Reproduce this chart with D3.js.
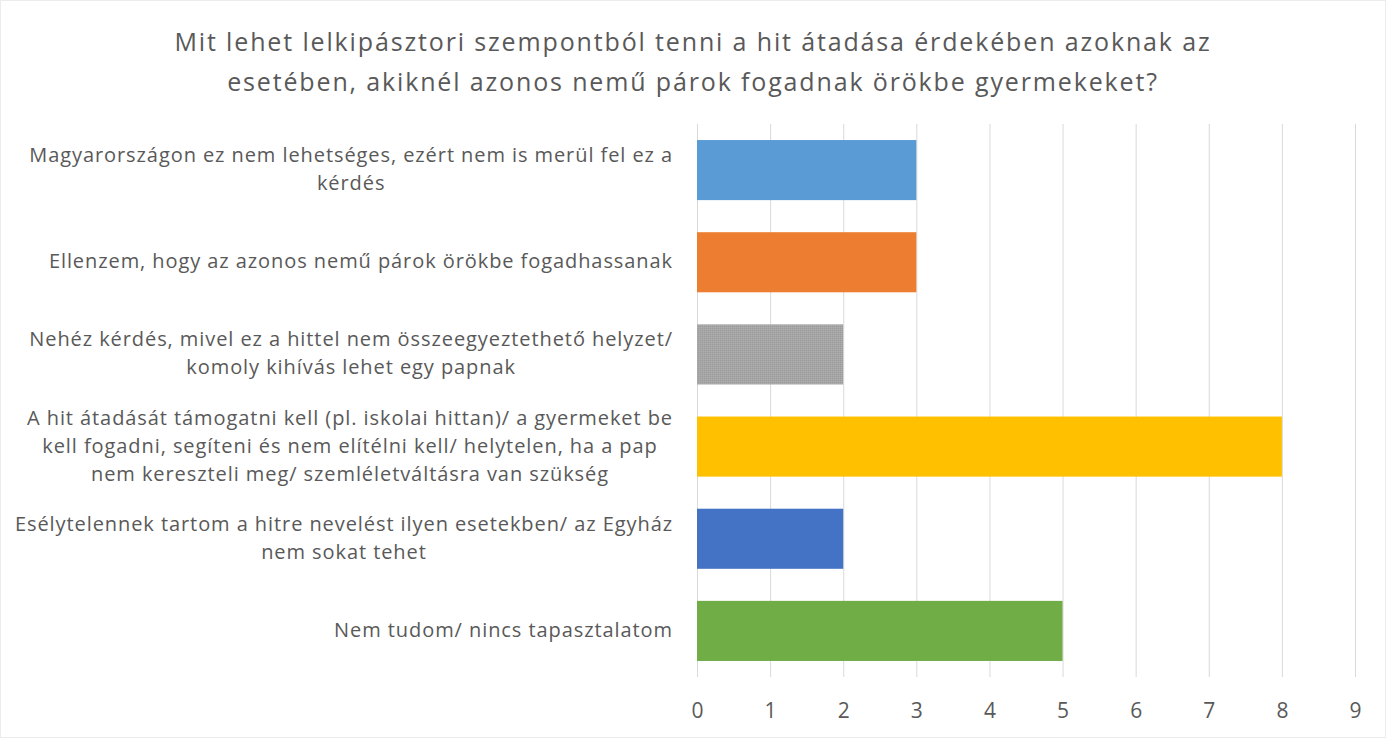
<!DOCTYPE html>
<html><head><meta charset="utf-8">
<script src="https://cdn.jsdelivr.net/npm/d3@7"></script>
<style>body{margin:0;background:#fff}svg{display:block}text{font-family:"Open Sans",sans-serif;fill:#595959}</style>
</head><body>
<svg id="c" width="1386" height="738"></svg>
<script>
const titleLines = ["Mit lehet lelkipásztori szempontból tenni a hit átadása érdekében azoknak az",
  "esetében, akiknél azonos nemű párok fogadnak örökbe gyermekeket?"];
const categories = [
  ["Magyarországon ez nem lehetséges, ezért nem is merül fel ez a", "kérdés"],
  ["Ellenzem, hogy az azonos nemű párok örökbe fogadhassanak"],
  ["Nehéz kérdés, mivel ez a hittel nem összeegyeztethető helyzet/", "komoly kihívás lehet egy papnak"],
  ["A hit átadását támogatni kell (pl. iskolai hittan)/ a gyermeket be", "kell fogadni, segíteni és nem elítélni kell/ helytelen, ha a pap", "nem kereszteli meg/ szemléletváltásra van szükség"],
  ["Esélytelennek tartom a hitre nevelést ilyen esetekben/ az Egyház", "nem sokat tehet"],
  ["Nem tudom/ nincs tapasztalatom"]
];
const values = [3, 3, 2, 8, 2, 5];
const colors = ["#5B9BD5", "#ED7D31", "#A5A5A5", "#FFC000", "#4472C4", "#70AD47"];
const ticks = [0,1,2,3,4,5,6,7,8,9];

const svg = d3.select("#c");
svg.append("rect").attr("x",0.5).attr("y",0.5).attr("width",1385).attr("height",737)
  .attr("fill","#fff").attr("stroke","#D9D9D9").attr("stroke-dasharray","1,1");

const defs = svg.append("defs");
const pat = defs.append("pattern").attr("id","gp").attr("width",2).attr("height",2).attr("patternUnits","userSpaceOnUse");
pat.append("rect").attr("width",2).attr("height",2).attr("fill","#A5A5A5");
pat.append("rect").attr("width",1).attr("height",1).attr("fill","#9C9C9C");
pat.append("rect").attr("x",1).attr("y",1).attr("width",1).attr("height",1).attr("fill","#AEAEAE");

const x = d3.scaleLinear().domain([0,9]).range([697,1355]);
const y = d3.scaleBand().domain(d3.range(categories.length)).range([124,677]).paddingInner(0.348).paddingOuter(0.174);

function fitSpacing(sel, target){
  const n = sel.text().length;
  const w = sel.node().getComputedTextLength();
  return (target - w) / n;
}

// title
const tt = svg.append("text").attr("text-anchor","middle").attr("font-size",25);
const tspans = titleLines.map((t,i)=>tt.append("tspan").attr("x",693).attr("y",51+i*40).text(t));
const tls = fitSpacing(tspans[0], 1037);
tt.attr("letter-spacing", tls);

// gridlines
svg.append("g").selectAll("line").data(ticks).join("line")
  .attr("x1",d=>x(d)+0.5).attr("x2",d=>x(d)+0.5).attr("y1",124).attr("y2",677)
  .attr("stroke","#D9D9D9").attr("stroke-width",1);

// bars
svg.append("g").selectAll("rect").data(values).join("rect")
  .attr("x",x(0)).attr("y",(d,i)=>y(i)).attr("width",d=>x(d)-x(0)).attr("height",y.bandwidth())
  .attr("fill",(d,i)=> i===2 ? "url(#gp)" : colors[i]);

// x axis
const ax = svg.append("g").attr("transform","translate(0,677)").call(d3.axisBottom(x).tickValues(ticks).tickSize(0).tickPadding(0));
ax.select(".domain").remove();
ax.selectAll("text").attr("font-size",21).attr("dy",null).attr("y",41).style("font-family","'Open Sans',sans-serif").attr("fill","#595959");

// category labels
const fs = 20, lh = 28, right = 673;
const probe = svg.append("text").attr("font-size",fs).text(categories[3][0]);
const lls = fitSpacing(probe, 646);
probe.remove();
categories.forEach((lines,i)=>{
  const g = svg.append("text").attr("text-anchor","middle").attr("font-size",fs).attr("letter-spacing",lls);
  const cy = y(i)+y.bandwidth()/2;
  const spans = lines.map((l,k)=>g.append("tspan").attr("y",cy+(k-(lines.length-1)/2)*lh+6).text(l));
  const maxW = d3.max(spans, s=>s.node().getComputedTextLength());
  spans.forEach(s=>s.attr("x", right - maxW/2));
});
</script>
</body></html>
